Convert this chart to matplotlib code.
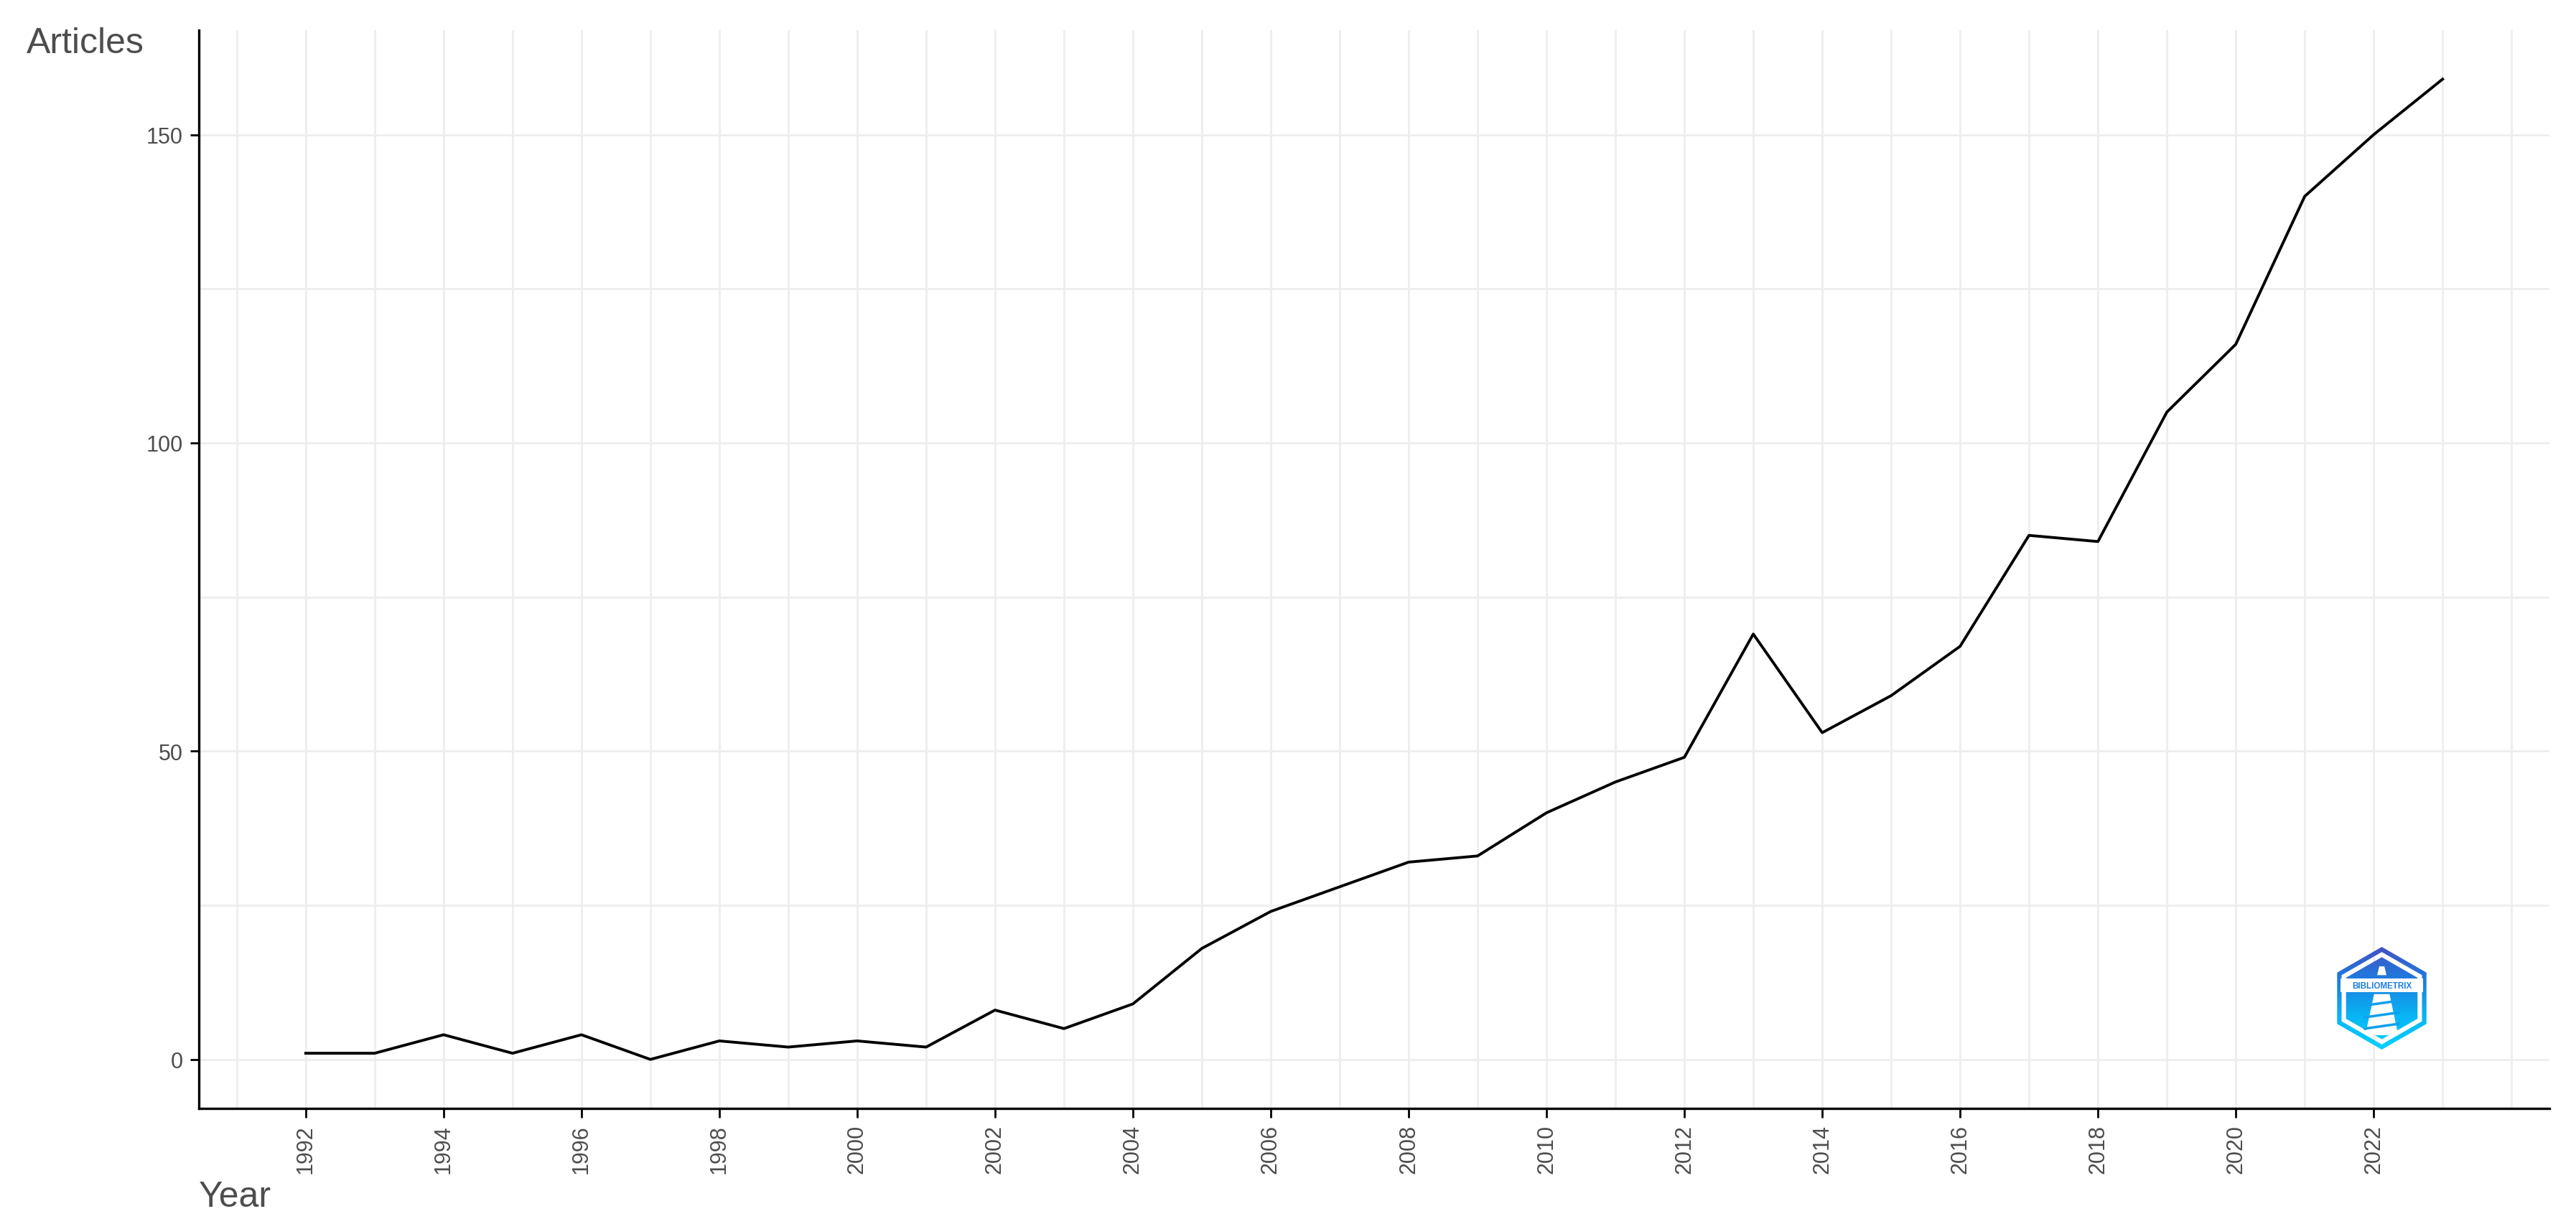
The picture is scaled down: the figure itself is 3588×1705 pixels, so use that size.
import numpy as np
import matplotlib
matplotlib.use("Agg")
import matplotlib.pyplot as plt
from matplotlib.path import Path
from matplotlib.patches import PathPatch, Polygon
from matplotlib.colors import LinearSegmentedColormap

plt.rcParams['font.family'] = ['Liberation Sans', 'DejaVu Sans']

years = list(range(1992, 2024))
articles = [1, 1, 4, 1, 4, 0, 3, 2, 3, 2, 8, 5, 9, 18, 24, 28, 32, 33, 40, 45,
            49, 69, 53, 59, 67, 85, 84, 105, 116, 140, 150, 159]
year_ticks = list(range(1992, 2023, 2))
y_ticks = [0, 50, 100, 150]
y_minor = [25, 75, 125]

W, H = 3588, 1706
fig = plt.figure(figsize=(W / 200, H / 200), dpi=200)
ax = fig.add_axes([277 / W, 1 - 1545 / H, (3551 - 277) / W, (1545 - 43) / H])

grid_col = '#EEEEEE'
for yr in range(1991, 2025):
    ax.axvline(yr, color=grid_col, lw=1.0, zorder=0)
for v in y_ticks + y_minor:
    ax.axhline(v, color=grid_col, lw=1.0, zorder=0)

ax.plot(years, articles, color='black', lw=1.4, zorder=3)

span = years[-1] - years[0]
ax.set_xlim(years[0] - 0.05 * span, years[-1] + 0.05 * span)
ax.set_ylim(-0.05 * max(articles), max(articles) * 1.05)
ax.set_xticks(year_ticks)
ax.set_xticklabels([str(y) for y in year_ticks], rotation=90)
ax.set_yticks(y_ticks)
ax.tick_params(axis='both', colors='black', labelcolor='#4D4D4D',
               labelsize=11, length=4.5, width=1.0)
for s in ['top', 'right']:
    ax.spines[s].set_visible(False)
for s in ['left', 'bottom']:
    ax.spines[s].set_linewidth(1.2)
    ax.spines[s].set_color('black')

fig.text(37 / W, 1 - 38 / H, 'Articles', ha='left', va='top',
         fontsize=18, color='#4D4D4D')
fig.text(277 / W, 1 - 1681 / H, 'Year', ha='left', va='baseline',
         fontsize=18, color='#4D4D4D')

# bibliometrix logo
lax = fig.add_axes([3255 / W, 1 - 1463 / H, 125 / W, 143 / H])
lax.set_xlim(-0.87, 0.87)
lax.set_ylim(-1.0, 1.0)
lax.axis('off')


def hexagon(r):
    ang = np.deg2rad([90, 150, 210, 270, 330, 30])
    return np.column_stack([r * np.cos(ang), r * np.sin(ang)])


cmap = LinearSegmentedColormap.from_list('bib', ['#4352C4', '#1C7EE0', '#08B4F4', '#00D2FF'])
grad = np.linspace(0, 1, 256).reshape(-1, 1)

outer = hexagon(1.0)
ring_verts = np.vstack([outer, outer[:1], hexagon(0.9)[::-1], hexagon(0.9)[-1:]])
codes = [Path.MOVETO] + [Path.LINETO] * 5 + [Path.CLOSEPOLY]
ring_path = Path(ring_verts, codes + codes)
im = lax.imshow(grad, cmap=cmap, extent=[-0.87, 0.87, -1, 1], aspect='auto', origin='upper')
ring_patch = PathPatch(ring_path, facecolor='none', edgecolor='none')
lax.add_patch(ring_patch)
im.set_clip_path(ring_patch)

inner_patch = Polygon(hexagon(0.8), closed=True, facecolor='none', edgecolor='none')
lax.add_patch(inner_patch)
im2 = lax.imshow(grad, cmap=cmap, extent=[-0.87, 0.87, -1, 1], aspect='auto', origin='upper')
im2.set_clip_path(inner_patch)

lax.add_patch(Polygon([[-0.8, 0.12], [0.8, 0.12], [0.8, 0.38], [-0.8, 0.38]],
                      closed=True, facecolor='white', edgecolor='none', zorder=3))
lax.add_patch(Polygon([[-0.05, 0.62], [0.05, 0.62], [0.09, 0.45], [-0.09, 0.45]],
                      closed=True, facecolor='white', edgecolor='none', zorder=3))
lax.add_patch(Polygon([[-0.15, 0.08], [0.15, 0.08], [0.32, -0.72], [-0.32, -0.72]],
                      closed=True, facecolor='white', edgecolor='none', zorder=3))
for yy in [-0.15, -0.38, -0.6]:
    lax.add_patch(Polygon([[-0.35, yy - 0.02], [0.35, yy + 0.08], [0.35, yy + 0.13], [-0.35, yy + 0.03]],
                          closed=True, facecolor='#10A0EC', edgecolor='none', zorder=4))
lax.text(0, 0.25, 'BIBLIOMETRIX', ha='center', va='center', fontsize=4.2,
         fontweight='bold', color='#1C7EE0', zorder=5)

fig.savefig('out.png', dpi=200)
